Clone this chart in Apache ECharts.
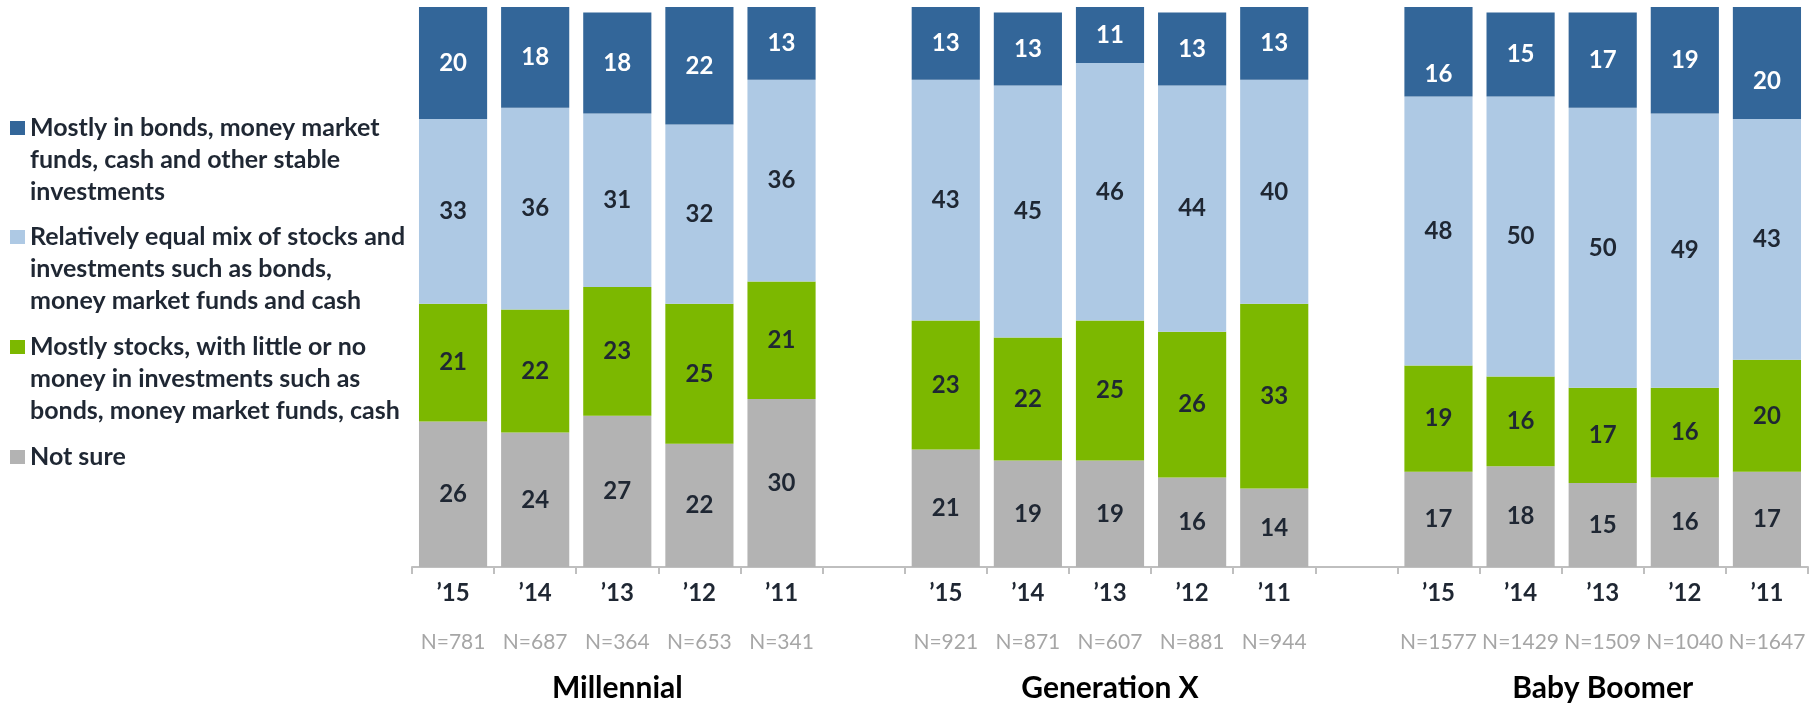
<!DOCTYPE html>
<html>
<head>
	<meta charset="UTF-8">
	<title>Investment mix by generation</title>
	<style>
		html, body { margin: 0; padding: 0; background: #fff; }
		#chart { width: 1818px; height: 704px; }
	</style>
</head>
<body>
<div id="chart"></div>
<script src="https://cdn.jsdelivr.net/npm/echarts/dist/echarts.min.js"></script>
<script type="text/javascript">
    // 年份、代际、样本量
    var years = ['\u201915', '\u201914', '\u201913', '\u201912', '\u201911'];
    var groups = ['Millennial', 'Generation X', 'Baby Boomer'];
    var sampleSizes = [[781, 687, 364, 653, 341], [921, 871, 607, 881, 944], [1577, 1429, 1509, 1040, 1647]];

    // 各系列数值（每代 5 年）
    var stable = [[20, 18, 18, 22, 13], [13, 13, 11, 13, 13], [16, 15, 17, 19, 20]];
    var equalMix = [[33, 36, 31, 32, 36], [43, 45, 46, 44, 40], [48, 50, 50, 49, 43]];
    var mostlyStocks = [[21, 22, 23, 25, 21], [23, 22, 25, 26, 33], [19, 16, 17, 16, 20]];
    var notSure = [[26, 24, 27, 22, 30], [21, 19, 19, 16, 14], [17, 18, 15, 16, 17]];

    var seriesNames = [
        'Mostly in bonds, money market funds, cash and other stable investments',
        'Relatively equal mix of stocks and investments such as bonds, money market funds and cash',
        'Mostly stocks, with little or no money in investments such as bonds, money market funds, cash',
        'Not sure'
    ];
    var legendLines = [
        'Mostly in bonds, money market\nfunds, cash and other stable\ninvestments',
        'Relatively equal mix of stocks and\ninvestments such as bonds,\nmoney market funds and cash',
        'Mostly stocks, with little or no\nmoney in investments such as\nbonds, money market funds, cash',
        'Not sure'
    ];
    var colors = ['#336699', '#aec9e4', '#7cb800', '#b3b3b3'];

    // 原图中两个顶部标签被手动下移（类目下标 -> 像素）
    var topLabelNudge = { 12: 22, 16: 18 };

    var font = 'Lato';
    var dark = '#1f2733';

    // 三组之间各留一个空类目
    function spread(arr, gap) {
        var out = [];
        arr.forEach(function (g, i) {
            if (i > 0) out.push(gap);
            out = out.concat(g);
        });
        return out;
    }
    var categories = spread([years, years, years], '');

    function makeSeries(idx, values, labelColor, nudge) {
        var data = spread(values, '-').map(function (v, i) {
            if (nudge && nudge[i]) {
                return { value: v, label: { offset: [0, nudge[i]] } };
            }
            return v;
        });
        return {
            name: seriesNames[idx],
            type: 'bar',
            stack: 'total',
            barCategoryGap: '17%',
            clip: true,
            data: data,
            itemStyle: { color: colors[idx] },
            label: {
                show: true,
                position: 'inside',
                color: labelColor,
                fontFamily: font,
                fontWeight: 'bold',
                fontSize: 24
            },
            emphasis: { disabled: true }
        };
    }

    // 图例图标对齐第一行：在文字前补空行，使第一行处于文本块中间
    function makeLegend(idx, top) {
        var lines = legendLines[idx].split('\n').length;
        var pad = new Array(lines).join('\n');
        return {
            data: [seriesNames[idx]],
            left: 10,
            top: top,
            padding: 0,
            icon: 'rect',
            itemWidth: 15,
            itemHeight: 14,
            selectedMode: false,
            formatter: function () { return pad + legendLines[idx]; },
            textStyle: {
                color: dark,
                fontFamily: font,
                fontWeight: 'bold',
                fontSize: 25,
                lineHeight: 32
            }
        };
    }

    var chart = echarts.init(document.getElementById('chart'));
    chart.setOption({
        animation: false,
        legend: [
            makeLegend(0, 48),
            makeLegend(1, 157),
            makeLegend(2, 267),
            makeLegend(3, 441)
        ],
        grid: {
            left: 412,
            right: 10,
            top: 7,
            bottom: 137,
            outerBoundsMode: 'none'
        },
        xAxis: {
            type: 'category',
            data: categories,
            axisLine: { lineStyle: { color: '#bfbfbf', width: 2 } },
            axisTick: { show: true, length: 7, lineStyle: { color: '#bfbfbf', width: 2 } },
            axisLabel: {
                interval: 0,
                margin: 8,
                formatter: function (value, index) {
                    var g = Math.floor(index / 6), k = index % 6;
                    if (k === 5) return '';
                    var s = '{yr|' + years[k] + '}\n{n|N=' + sampleSizes[g][k] + '}';
                    if (k === 2) s += '\n{grp|' + groups[g] + '}';
                    return s;
                },
                rich: {
                    yr: { fontFamily: font, fontWeight: 'bold', fontSize: 24, color: dark, lineHeight: 36 },
                    n: { fontFamily: font, fontSize: 21, color: '#a6a6a6', lineHeight: 62 },
                    grp: { fontFamily: font, fontWeight: 'bold', fontSize: 30, color: '#000', lineHeight: 30 }
                }
            }
        },
        yAxis: {
            type: 'value',
            min: 0,
            max: 100,
            show: false
        },
        series: [
            makeSeries(3, notSure, dark),
            makeSeries(2, mostlyStocks, dark),
            makeSeries(1, equalMix, dark),
            makeSeries(0, stable, '#ffffff', topLabelNudge)
        ]
    });
</script>
</body>
</html>
